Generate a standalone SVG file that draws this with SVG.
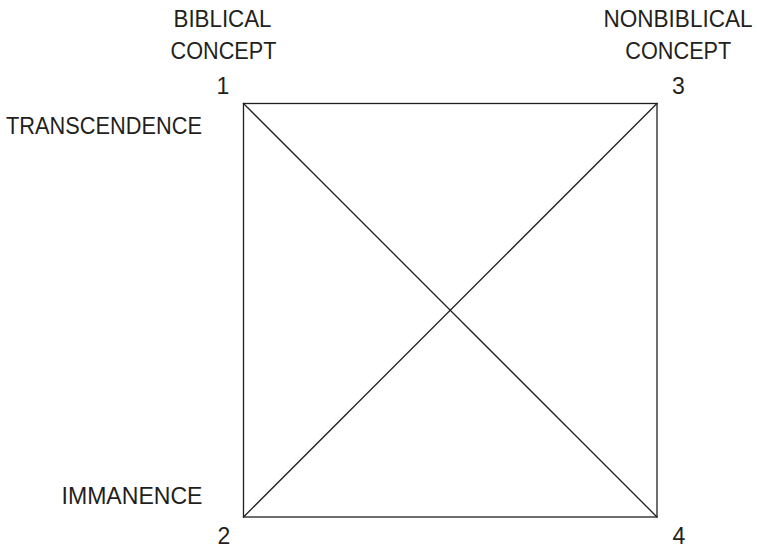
<svg xmlns="http://www.w3.org/2000/svg" width="757" height="546" viewBox="0 0 757 546">
  <style>
    text { font-family: "Liberation Sans", Arial, sans-serif; font-size: 23px; fill: #231f20; }
    .mid { text-anchor: middle; }
    .end { text-anchor: end; }
    .edge { stroke: #231f20; stroke-width: 1.3; fill: none; stroke-linecap: square; }
  </style>
  <rect width="757" height="546" fill="#ffffff"/>
  <g id="connectors">
    <rect class="edge" x="243.5" y="103.5" width="413.5" height="413.5"/>
    <line class="edge" x1="243.5" y1="103.5" x2="657" y2="517"/>
    <line class="edge" x1="657" y1="103.5" x2="243.5" y2="517"/>
  </g>
  <g id="node1">
    <text class="mid" x="222.5" y="27" textLength="98" lengthAdjust="spacingAndGlyphs">BIBLICAL</text>
    <text class="mid" x="223.5" y="58.5" textLength="106" lengthAdjust="spacingAndGlyphs">CONCEPT</text>
    <text class="mid" x="223" y="93.5">1</text>
    <text class="end" x="202" y="134.3" textLength="196" lengthAdjust="spacingAndGlyphs">TRANSCENDENCE</text>
  </g>
  <g id="node3">
    <text class="mid" x="678" y="27" textLength="149" lengthAdjust="spacingAndGlyphs">NONBIBLICAL</text>
    <text class="mid" x="678.3" y="58.5" textLength="106" lengthAdjust="spacingAndGlyphs">CONCEPT</text>
    <text class="mid" x="678.3" y="93.5">3</text>
  </g>
  <g id="node2">
    <text class="end" x="202.5" y="504" textLength="141" lengthAdjust="spacingAndGlyphs">IMMANENCE</text>
    <text class="mid" x="224" y="543.5">2</text>
  </g>
  <g id="node4">
    <text class="mid" x="679" y="543.5">4</text>
  </g>
</svg>
